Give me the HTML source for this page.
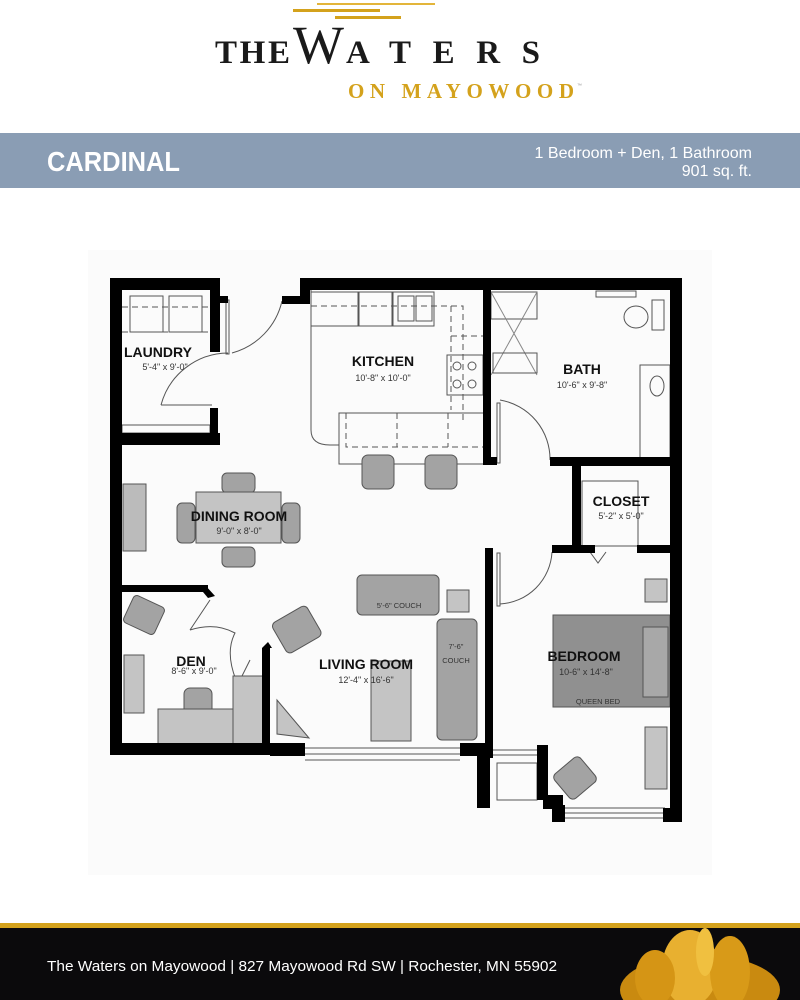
<!DOCTYPE html>
<html><head><meta charset="utf-8"><style>
html,body{margin:0;padding:0;background:#fff;width:800px;height:1000px;overflow:hidden;font-family:"Liberation Sans",sans-serif}
</style></head><body>
<svg width="800" height="1000" viewBox="0 0 800 1000" xmlns="http://www.w3.org/2000/svg" font-family="Liberation Sans, sans-serif">
<!-- logo -->
<rect x="317" y="3" width="118" height="2" fill="#e3b53a"/>
<rect x="293" y="9" width="87" height="3" fill="#d4a21c"/>
<rect x="335" y="16" width="66" height="3" fill="#d4a21c"/>
<text x="215" y="63" font-family="Liberation Serif, serif" font-size="33" font-weight="bold" fill="#1a1a1a" textLength="75" lengthAdjust="spacing">THE</text>
<text x="293" y="63" font-family="Liberation Serif, serif" font-size="54" fill="#1a1a1a">W</text>
<text x="346" y="63" font-family="Liberation Serif, serif" font-size="33" font-weight="bold" fill="#1a1a1a" textLength="194" lengthAdjust="spacing">ATERS</text>
<text x="348" y="98" font-family="Liberation Serif, serif" font-size="21" font-weight="bold" fill="#d4a21c" textLength="226" lengthAdjust="spacing">ON MAYOWOOD</text>
<text x="577" y="87" font-size="5" fill="#999">™</text>
<!-- banner -->
<rect x="0" y="133" width="800" height="55" fill="#8a9db4"/>
<text x="47" y="171" font-size="28" font-weight="bold" fill="#fff" textLength="133" lengthAdjust="spacingAndGlyphs">CARDINAL</text>
<text x="752" y="158" font-size="16" fill="#fff" text-anchor="end">1 Bedroom + Den, 1 Bathroom</text>
<text x="752" y="176" font-size="16" fill="#fff" text-anchor="end">901 sq. ft.</text>
<!-- plan bg -->
<rect x="88" y="250" width="624" height="625" fill="#fbfbfb"/>
<g fill="none" stroke="#555" stroke-width="1">
<rect x="130" y="296" width="33" height="36"/><rect x="169" y="296" width="33" height="36"/>
<line x1="122" y1="307" x2="210" y2="307" stroke-dasharray="6 4"/><line x1="122" y1="332" x2="210" y2="332" stroke-dasharray="6 4"/>
<rect x="122" y="425" width="88" height="8"/>
<path d="M161 405 H212 M161 405 A70 70 0 0 1 228 353"/>
<rect x="226" y="300" width="3" height="54"/>
<path d="M282 301 A70 70 0 0 1 232 353"/>
<path d="M311 290 V430 Q311 445 330 445 H339"/>
<rect x="311" y="292" width="47" height="34"/><rect x="359" y="292" width="33" height="34"/>
<rect x="393" y="292" width="41" height="34"/><rect x="398" y="296" width="16" height="25"/><rect x="416" y="296" width="16" height="25"/>
<path d="M311 306 H463 V420 M451 306 V410 M451 336 H485 M451 355 H485 M451 395 H485" stroke-dasharray="6 4"/>
<rect x="447" y="355" width="36" height="40"/>
<circle cx="457" cy="366" r="4"/><circle cx="472" cy="366" r="4"/><circle cx="457" cy="384" r="4"/><circle cx="472" cy="384" r="4"/>
<rect x="339" y="413" width="146" height="51"/>
<path d="M346 413 V447 H485 M397 413 V447 M448 413 V447" stroke-dasharray="6 4"/>
<rect x="491" y="292" width="46" height="27"/>
<path d="M491 292 L537 375 M537 292 L491 375" stroke="#888"/>
<rect x="493" y="353" width="44" height="20"/>
<rect x="596" y="291" width="40" height="6"/>
<ellipse cx="636" cy="317" rx="12" ry="11"/><rect x="652" y="300" width="12" height="30"/>
<rect x="640" y="365" width="30" height="95"/><ellipse cx="657" cy="386" rx="7" ry="10"/>
<path d="M500 400 A60 60 0 0 1 550 460"/><rect x="497" y="403" width="3" height="60"/>
<rect x="582" y="481" width="56" height="65"/>
<path d="M590 552 L598 563 L606 552"/>
<rect x="497" y="553" width="3" height="53"/><path d="M500 604 A55 55 0 0 0 552 552"/>
<path d="M190 630 L210 600 M235 690 L250 660"/><path d="M190 630 Q215 622 235 633 Q225 652 236 680"/>
<path d="M305 748 H460 M305 754 H460 M305 760 H460"/>
<path d="M565 808 H665 M565 813 H665 M565 818 H665"/>
<rect x="497" y="763" width="40" height="37"/>
<path d="M490 750 H537 M490 755 H537"/>
</g>
<g fill="#a3a3a3" stroke="#555" stroke-width="1">
<rect x="123" y="484" width="23" height="67" fill="#bbb"/>
<rect x="222" y="473" width="33" height="20" rx="5"/><rect x="222" y="547" width="33" height="20" rx="5"/>
<rect x="177" y="503" width="18" height="40" rx="5"/><rect x="282" y="503" width="18" height="40" rx="5"/>
<rect x="196" y="492" width="85" height="51" fill="#c4c4c4"/>
<rect x="362" y="455" width="32" height="34" rx="6"/><rect x="425" y="455" width="32" height="34" rx="6"/>
<rect x="357" y="575" width="82" height="40" rx="5"/>
<rect x="447" y="590" width="22" height="22" fill="#c4c4c4"/>
<rect x="437" y="619" width="40" height="121" rx="5"/>
<rect x="371" y="661" width="40" height="80" fill="#c4c4c4"/>
<rect x="277" y="612" width="40" height="35" rx="5" transform="rotate(-30 297 630)"/>
<rect x="127" y="600" width="34" height="30" rx="4" transform="rotate(25 144 615)"/>
<rect x="124" y="655" width="20" height="58" fill="#c4c4c4"/>
<rect x="184" y="688" width="28" height="28" rx="6"/>
<rect x="158" y="709" width="75" height="35" fill="#c4c4c4"/><rect x="233" y="676" width="32" height="68" fill="#c4c4c4"/>
<path d="M277 734 L277 700 L309 738 Z" fill="#c4c4c4"/>
<rect x="645" y="579" width="22" height="23" fill="#c4c4c4"/>
<rect x="553" y="615" width="117" height="92" fill="#909090"/>
<rect x="643" y="627" width="25" height="70" fill="#a8a8a8"/>
<rect x="645" y="727" width="22" height="62" fill="#c4c4c4"/>
<rect x="558" y="762" width="34" height="32" rx="5" transform="rotate(-40 575 778)"/>
</g>
<g fill="#000">
<rect x="110" y="278" width="12" height="477"/>
<rect x="110" y="278" width="110" height="12"/>
<rect x="210" y="278" width="10" height="74"/><rect x="220" y="296" width="8" height="7"/>
<rect x="210" y="408" width="8" height="37"/>
<rect x="110" y="433" width="110" height="12"/>
<rect x="300" y="278" width="382" height="12"/><rect x="282" y="296" width="28" height="8"/><rect x="300" y="278" width="10" height="26"/>
<rect x="483" y="290" width="8" height="174"/>
<rect x="483" y="457" width="14" height="8"/>
<rect x="550" y="457" width="132" height="9"/>
<rect x="572" y="464" width="9" height="88"/>
<rect x="552" y="545" width="43" height="8"/><rect x="637" y="545" width="45" height="8"/>
<rect x="670" y="278" width="12" height="544"/>
<rect x="485" y="548" width="8" height="210"/>
<rect x="110" y="743" width="165" height="12"/>
<rect x="262" y="648" width="8" height="107"/>
<path d="M262 648 L268 642 L272 648 Z"/>
<rect x="122" y="585" width="86" height="7"/><path d="M205 585 L215 596 L208 598 L203 592 Z"/>
<rect x="270" y="743" width="35" height="13"/>
<rect x="460" y="743" width="33" height="13"/>
<rect x="477" y="745" width="13" height="63"/>
<rect x="537" y="745" width="11" height="55"/><rect x="543" y="795" width="20" height="14"/><rect x="552" y="805" width="13" height="17"/>
<rect x="663" y="808" width="19" height="14"/>
</g>
<g fill="#111" font-weight="bold" font-size="14">
<text x="124" y="357">LAUNDRY</text>
<text x="383" y="366" text-anchor="middle">KITCHEN</text>
<text x="582" y="374" text-anchor="middle">BATH</text>
<text x="621" y="506" text-anchor="middle">CLOSET</text>
<text x="239" y="521" text-anchor="middle">DINING ROOM</text>
<text x="191" y="666" text-anchor="middle">DEN</text>
<text x="366" y="669" text-anchor="middle">LIVING  ROOM</text>
<text x="584" y="661" text-anchor="middle">BEDROOM</text>
</g>
<g fill="#333" font-size="9" text-anchor="middle">
<text x="165" y="370">5'-4" x 9'-0"</text>
<text x="383" y="381">10'-8" x 10'-0"</text>
<text x="582" y="388">10'-6" x 9'-8"</text>
<text x="621" y="519">5'-2" x 5'-0"</text>
<text x="239" y="534">9'-0" x 8'-0"</text>
<text x="194" y="674">8'-6" x 9'-0"</text>
<text x="366" y="683">12'-4" x 16'-6"</text>
<text x="586" y="675">10-6" x 14'-8"</text>
<text x="598" y="704" font-size="7.5">QUEEN BED</text>
<text x="399" y="608" font-size="7.5">5'-6" COUCH</text>
<text x="456" y="649" font-size="7.5">7'-6"</text>
<text x="456" y="663" font-size="7.5">COUCH</text>
</g>
<rect x="0" y="923" width="800" height="5" fill="#d4a21c"/>
<rect x="0" y="928" width="800" height="72" fill="#0b0a0c"/>
<text x="47" y="971" font-size="15" fill="#fff" textLength="510" lengthAdjust="spacingAndGlyphs">The Waters on Mayowood  |  827 Mayowood Rd SW  |  Rochester, MN 55902</text>
<g>
<ellipse cx="700" cy="990" rx="80" ry="35" fill="#c98a10"/>
<ellipse cx="690" cy="968" rx="28" ry="38" fill="#e8b030"/>
<ellipse cx="730" cy="972" rx="20" ry="36" fill="#d89a18"/>
<ellipse cx="655" cy="978" rx="20" ry="28" fill="#d59515"/>
<ellipse cx="705" cy="952" rx="9" ry="24" fill="#f0c040"/>
</g>
</svg>
</body></html>
